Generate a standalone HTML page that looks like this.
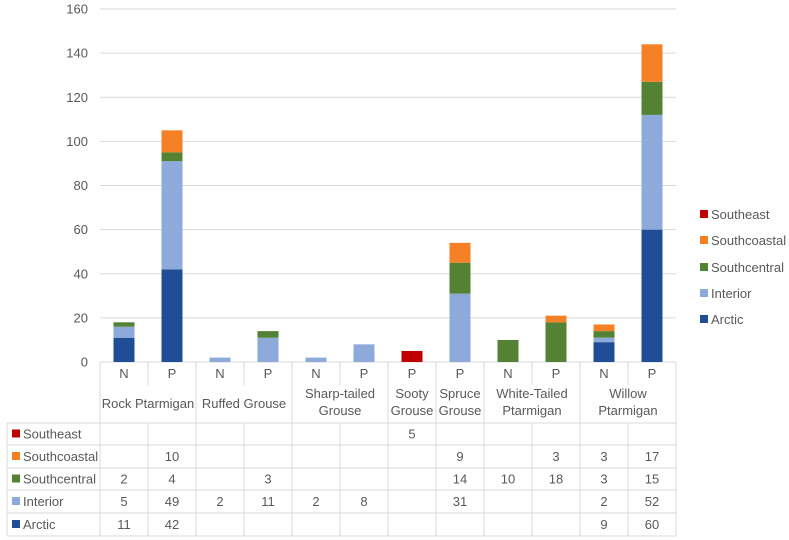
<!DOCTYPE html>
<html><head><meta charset="utf-8"><style>
body{margin:0;background:#fff;}
svg{display:block;font-family:"Liberation Sans",sans-serif;}
</style></head><body>
<svg id="chart" width="789" height="540"></svg>
<script>
const columns=["N","P","N","P","N","P","P","P","N","P","N","P"];
const groups=[["Rock Ptarmigan"],["Ruffed Grouse"],["Sharp-tailed","Grouse"],["Sooty","Grouse"],["Spruce","Grouse"],["White-Tailed","Ptarmigan"],["Willow","Ptarmigan"]];
const groupSpans=[2,2,2,1,1,2,2];
const seriesNames=["Arctic","Interior","Southcentral","Southcoastal","Southeast"];
const arctic=[11,42,0,0,0,0,0,0,0,0,9,60];
const interior=[5,49,2,11,2,8,0,31,0,0,2,52];
const southcentral=[2,4,0,3,0,0,0,14,10,18,3,15];
const southcoastal=[0,10,0,0,0,0,0,9,0,3,3,17];
const southeast=[0,0,0,0,0,0,5,0,0,0,0,0];
const yTicks=[0,20,40,60,80,100,120,140,160];
const colors=["#1f4e96","#8eaadb","#548235","#f58025","#c00000"];
const series=[arctic,interior,southcentral,southcoastal,southeast];
const NS="http://www.w3.org/2000/svg";
const svg=document.getElementById('chart');
const x0=100,colW=48,y0=362,yTop=9,yMax=160;
const y=v=>y0-(v/yMax)*(y0-yTop);
const xc=i=>x0+colW*i+colW/2;
function el(t,a,p){const e=document.createElementNS(NS,t);for(const k in a)e.setAttribute(k,a[k]);(p||svg).appendChild(e);return e;}
const grid="#d9d9d9",txt="#595959";
yTicks.forEach(t=>{
  const l=el('line',{x1:x0,x2:x0+colW*12,y1:y(t),y2:y(t),stroke:grid,'stroke-width':1});
  
  
  const tx=el('text',{x:88,y:y(t)+4.5,'text-anchor':'end','font-size':13,fill:txt});
  tx.textContent=t;
  
  
});
columns.forEach((c,i)=>{
  let acc=0;
  series.forEach((s,k)=>{
    const v=s[i];if(!v)return;
    const r=el('rect',{x:xc(i)-10.5,width:21,y:y(acc+v),height:y(acc)-y(acc+v),fill:colors[k]});
    
    
    acc+=v;
  });
});
const rowY=[362,385,423,445,468,490,513,536];
const L=(a,b,c,d)=>el('line',{x1:a,y1:b,x2:c,y2:d,stroke:grid,'stroke-width':1});
for(let i=0;i<=12;i++){
  const xx=x0+colW*i;
  L(xx,rowY[2],xx,rowY[7]);
}
let ci=0;
const bounds=[0];
groupSpans.forEach(s=>{ci+=s;bounds.push(ci);});
for(let i=0;i<=12;i++){
  const xx=x0+colW*i;
  if(bounds.includes(i)) L(xx,rowY[0],xx,rowY[2]);
  else L(xx,rowY[0],xx,rowY[1]);
}
L(7,rowY[2],7,rowY[7]);
for(let r=2;r<rowY.length;r++) L(7,rowY[r],x0+colW*12,rowY[r]);
columns.forEach((c,i)=>{
  const t=el('text',{x:xc(i),y:378,'text-anchor':'middle','font-size':13,fill:txt});
  t.textContent=c;
  
  
});
groups.forEach((g,gi)=>{
  const cx=x0+colW*(bounds[gi]+bounds[gi+1])/2;
  g.forEach((line,li)=>{
    const t=el('text',{x:cx,y:(g.length===1?408:398)+li*17,'text-anchor':'middle','font-size':13,fill:txt});
    t.textContent=line;
    
    
  });
});
for(let k=4;k>=0;k--){
  const r=2+(4-k);
  const cy=(rowY[r]+rowY[r+1])/2+4.5;
  const sq=el('rect',{x:12,y:cy-9,width:8,height:8,fill:colors[k]});
  
  
  const lt=el('text',{x:23,y:cy,'font-size':13,fill:txt});
  lt.textContent=seriesNames[k];
  
  
  series[k].forEach((v,i)=>{
    if(!v)return;
    const t=el('text',{x:xc(i),y:cy,'text-anchor':'middle','font-size':13,fill:txt});
    t.textContent=v;
    
    
  });
}
const legY=[324,298,272,245,219];
for(let k=0;k<5;k++){
  const g=el('g',{});
  
  
  el('rect',{x:700,y:legY[k]-9,width:8,height:8,fill:colors[k]},g);
  const t=el('text',{x:711,y:legY[k],'font-size':13,fill:txt},g);
  t.textContent=seriesNames[k];
}
</script>
</body></html>
